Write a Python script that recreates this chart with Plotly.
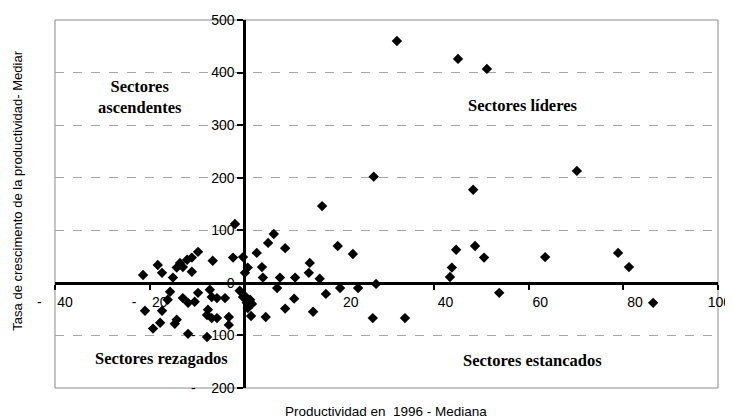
import plotly.graph_objects as go

# Productividad en 1996 (desvio de la mediana) y tasa de crecimiento de la productividad
productividad = [
    32.2, 45.1, 51.2, 27.3, 48.3, 70.2, 16.4,
    19.7, 22.9, 44.7, 48.7, 50.6, 43.8, 43.4, 63.5, 78.9, 81.2,
    20.2, 24.0, 27.8, 27.1, 33.9, 53.8, 86.3,
    6.2, 5.0, 8.6, 2.6, -0.3, -2.4, -2.0, 0.7, 0.1, 3.7, 13.8, 13.6, 3.9, 7.5, 10.7, 15.9,
    -1.0, 0.1, 1.2, 0.5, 1.6, 0.7, 1.4, 4.5, 8.6, 10.5, 14.5, 17.2, 6.9, -0.3,
    -6.7, -9.8, -11.1, -12.1, -13.6, -14.3, -13.0, -11.1, -18.3, -17.4, -21.4, -15.1,
    -15.7, -16.2, -21.0, -17.4, -17.8, -19.3, -14.3, -14.7, -11.9, -7.9, -13.0, -11.9,
    -10.5, -9.8, -7.3, -6.9, -5.8, -4.1, -7.7, -7.9, -6.9, -5.8, -3.3, -3.3,
]
crecimiento = [
    460, 426, 407, 202, 177, 213, 146,
    70, 55, 63, 70, 48, 29, 11, 49, 57, 30,
    -10, -10, -2, -67, -67, -19, -38,
    93, 76, 66, 57, 49, 48, 112, 29, 19, 30, 38, 19, 10, 10, 10, 8,
    -15, -25, -32, -38, -40, -48, -63, -65, -49, -30, -55, -21, -10, -27,
    42, 59, 48, 44, 38, 29, 30, 21, 34, 19, 15, 10,
    -17, -32, -53, -53, -76, -87, -70, -78, -97, -103, -29, -38,
    -36, -19, -13, -27, -29, -29, -51, -61, -67, -67, -65, -80,
]

x_ticks = [-40, -20, 0, 20, 40, 60, 80, 100]
y_ticks = [-200, -100, 0, 100, 200, 300, 400, 500]

sp = "\u2007"  # figure space, formato contable de Excel
x_labels = ["-" + sp * 2 + "40", "-" + sp * 2 + "20", "",
            sp * 3 + "20", sp * 3 + "40", sp * 3 + "60", sp * 3 + "80", "\u2009100"]
y_labels = ["-" + sp * 2 + "200", "-" + sp * 2 + "100", "0", "100", "200", "300", "400", "500"]

cuadrantes = ["Sectores<br>ascendentes", "Sectores líderes", "Sectores rezagados", "Sectores estancados"]
cuad_x = [-22.1, 58.8, -17.6, 60.9]
cuad_y = [354, 338, -144, -148]

fig = go.Figure()
fig.add_trace(go.Scatter(
    x=productividad, y=crecimiento, mode="markers",
    marker=dict(symbol="diamond", size=8, color="black"),
    showlegend=False, hoverinfo="x+y",
))

tick_font = dict(family="Liberation Sans, Arial", size=14, color="black")

# la pagina tiene 8px de margen en el body, por eso 725x410
fig.update_layout(
    width=725, height=410,
    margin=dict(l=47, r=15, t=12, b=30),
    paper_bgcolor="white", plot_bgcolor="white",
    font=dict(family="Liberation Sans, Arial", color="black"),
    xaxis=dict(
        range=[-40, 100], anchor="free", position=2 / 7, automargin=False,
        tickvals=x_ticks, ticktext=x_labels, tickfont=tick_font,
        ticklabeloverflow="allow",
        showgrid=False, zeroline=False,
        showline=True, linecolor="black", linewidth=3,
        ticks="outside", ticklen=5, tickwidth=2, tickcolor="black",
    ),
    yaxis=dict(
        range=[-200, 500], anchor="free", position=2 / 7, automargin=False,
        tickvals=y_ticks, ticktext=y_labels, tickfont=tick_font,
        ticklabeloverflow="allow",
        showgrid=True, gridcolor="#a5a5a5", gridwidth=1, griddash="dash",
        zeroline=False,
        showline=True, linecolor="black", linewidth=3,
        ticks="outside", ticklen=6, tickwidth=2, tickcolor="black",
    ),
    shapes=[dict(type="rect", xref="paper", yref="paper", x0=0, y0=0, x1=1, y1=1,
                 line=dict(color="#8a8a8a", width=1), layer="below")],
)

for txt, cx, cy in zip(cuadrantes, cuad_x, cuad_y):
    fig.add_annotation(x=cx, y=cy, xref="x", yref="y", text="<b>" + txt + "</b>", showarrow=False,
                       font=dict(family="Liberation Serif, Times New Roman", size=16.5, color="black"),
                       align="center")

# titulos de ejes
fig.add_annotation(x=0.4985, y=-0.0625, xref="paper", yref="paper",
                   text="Productividad en\u00a0\u00a01996 - Mediana", showarrow=False,
                   font=dict(size=13.5), xanchor="center", yanchor="middle")
fig.add_annotation(x=-0.0565, y=0.535, xref="paper", yref="paper", textangle=-90,
                   text="Tasa de crescimento de la productividad- Mediar", showarrow=False,
                   font=dict(size=13), xanchor="center", yanchor="middle")

fig.write_html("out.html")
